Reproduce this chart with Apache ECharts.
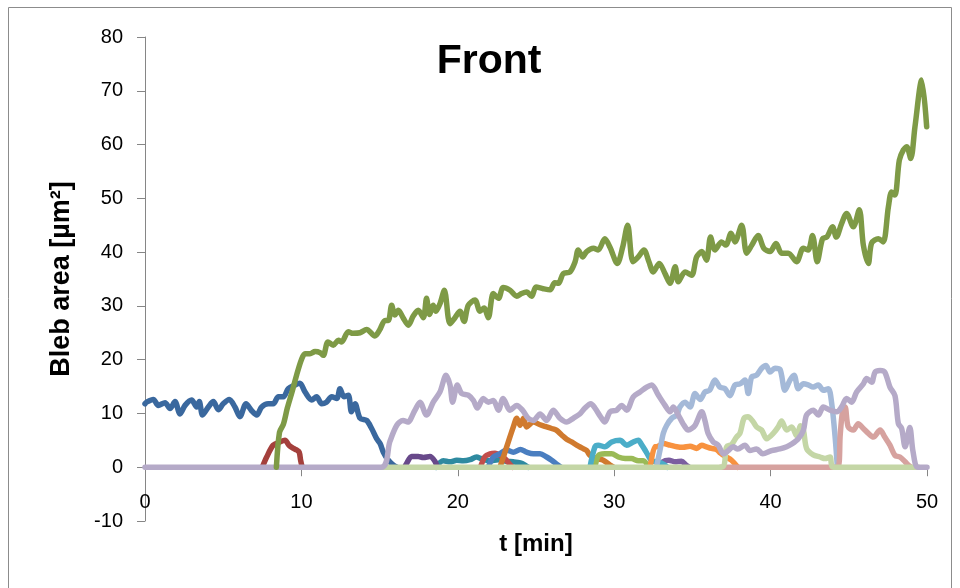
<!DOCTYPE html>
<html>
<head>
<meta charset="utf-8">
<title>Front</title>
<script src="https://cdn.jsdelivr.net/npm/echarts@6/dist/echarts.min.js"></script>
<style>
  html, body { margin: 0; padding: 0; background: #ffffff; }
  #chart { width: 960px; height: 588px; }
</style>
</head>
<body>
<div id="chart"></div>
<script>
// Bleb area traces at the cell front, [t in min, area in µm²]
const bleb01 = [[0,11.8],[0.1,12.1],[0.53,12.6],[0.85,11.5],[1.28,12.0],[1.6,10.9],[1.92,12.2],[2.24,9.9],[2.56,11.5],[2.98,12.5],[3.3,11.2],[3.47,12.2],[3.68,9.7],[4.05,11.2],[4.37,12.2],[4.69,10.7],[5.0,11.8],[5.39,12.6],[5.75,11.2],[6.07,9.4],[6.46,11.8],[6.82,10.5],[7.14,9.7],[7.46,11.2],[7.88,11.8],[8.2,11.8],[8.53,13.1],[8.85,13.1],[9.16,14.6],[9.6,15.3],[9.9,15.6],[10.23,14.0],[10.66,12.5],[10.97,13.1],[11.3,11.8],[11.6,12.1],[11.94,13.1],[12.26,12.8],[12.47,14.6],[12.72,13.1],[13.0,13.4],[13.2,10.3],[13.43,11.8],[13.75,9.1],[14.17,8.7],[14.49,7.2],[14.81,5.3],[15.03,4.4],[15.24,2.8],[15.56,1.3],[15.88,0.4],[16.1,0]];
const bleb02 = [[7.5,0],[7.78,1.9],[8.2,4.1],[8.63,4.7],[8.95,5.0],[9.2,4.1],[9.5,3.5],[9.7,3.2],[9.86,2.8],[9.95,1.3],[10.05,0]];
const bleb03 = [[8.4,0],[8.6,6.5],[8.85,8.0],[9.1,11.0],[9.4,14.0],[9.7,17.2],[10.0,20.0],[10.23,21.1],[10.55,21.1],[10.87,21.5],[11.2,21.3],[11.4,20.8],[11.7,23.3],[12.04,22.7],[12.36,23.6],[12.57,23.3],[13.0,25.2],[13.3,24.9],[13.75,25.0],[14.17,25.6],[14.7,24.4],[15.0,25.5],[15.35,27.3],[15.56,27.3],[15.77,30.1],[15.98,28.3],[16.2,29.2],[16.5,27.8],[16.84,26.4],[17.15,28.1],[17.47,29.2],[17.8,27.8],[18.0,31.4],[18.2,28.4],[18.43,30.1],[18.6,29.0],[18.86,30.4],[19.14,32.9],[19.5,26.7],[19.82,27.8],[20.14,29.0],[20.4,27.1],[20.67,30.1],[21.1,31.1],[21.42,29.0],[21.68,29.6],[21.95,27.8],[22.27,32.3],[22.6,31.4],[22.9,33.4],[23.34,32.9],[23.77,31.8],[24.08,32.3],[24.4,32.6],[24.72,31.8],[25.0,33.5],[25.46,33.2],[25.9,33.0],[26.2,34.3],[26.43,34.2],[26.74,36.0],[27.17,36.3],[27.5,38.2],[27.7,40.4],[27.98,39.1],[28.24,40.1],[28.67,40.7],[28.98,40.4],[29.4,42.5],[29.73,40.9],[30.2,37.9],[30.54,40.9],[30.86,45.0],[31.2,38.2],[31.54,39.1],[31.9,40.4],[32.22,38.2],[32.5,36.3],[32.88,37.9],[33.25,36.0],[33.57,34.2],[33.9,37.3],[34.1,34.5],[34.53,36.3],[34.95,35.7],[35.27,39.1],[35.6,40.1],[35.9,38.5],[36.16,42.8],[36.44,40.4],[36.87,41.9],[37.14,41.3],[37.47,43.5],[37.72,41.9],[38.15,45.0],[38.47,39.8],[38.8,41.3],[39.2,43.1],[39.57,40.7],[39.96,40.1],[40.35,41.6],[40.7,39.8],[41.13,39.8],[41.66,38.2],[42.09,40.7],[42.4,40.4],[42.68,43.1],[42.98,38.2],[43.32,42.5],[43.6,42.8],[43.96,44.7],[44.2,42.8],[44.54,45.3],[44.86,47.2],[45.29,44.7],[45.67,47.9],[45.93,41.3],[46.25,37.9],[46.46,41.7],[46.89,42.5],[47.2,41.9],[47.53,48.4],[47.74,51.2],[47.95,50.6],[48.23,57.1],[48.49,59.0],[48.7,59.6],[48.96,57.4],[49.23,63.3],[49.66,72.0],[49.98,63.3]];
const bleb04 = [[16.6,0],[16.73,0.7],[17.05,2.0],[17.47,2.0],[17.8,1.8],[18.22,2.0],[18.54,1.1],[18.7,0]];
const bleb05 = [[18.6,0],[19.07,1.2],[19.5,1.0],[19.93,1.3],[20.35,1.2],[20.78,1.4],[21.2,1.9],[21.5,1.6],[22.06,1.2],[22.6,1.4],[23.1,1.1],[23.55,1.0],[24.0,0.8],[24.3,0.4],[24.5,0]];
const bleb06 = [[22.7,0],[23.23,4.7],[23.55,7.5],[23.77,9.1],[23.98,7.8],[24.2,9.1],[24.4,7.5],[24.83,8.4],[25.26,7.9],[25.68,7.5],[26.0,7.2],[26.3,6.9],[26.64,6.0],[26.96,5.2],[27.28,4.7],[27.6,4.1],[27.92,3.6],[28.24,3.1],[28.45,2.2],[28.88,1.6],[29.3,1.3],[29.73,0.4],[29.95,0]];
const bleb07 = [[21.95,0],[22.27,1.9],[22.7,2.5],[23.1,3.2],[23.55,2.8],[24.0,3.3],[24.4,2.8],[24.83,2.5],[25.26,2.5],[25.68,1.9],[26.0,1.3],[26.3,0.6],[26.6,0]];
const bleb08 = [[21.45,0],[21.74,2.0],[22.06,2.5],[22.38,2.6],[22.7,2.2],[23.0,1.6],[23.34,0.5],[23.5,0]];
const bleb09 = [[0,0],[15.1,0],[15.66,4.8],[16.1,7.8],[16.5,8.7],[16.8,8.4],[17.26,10.6],[17.58,12.1],[18.0,9.7],[18.43,12.1],[18.86,14.0],[19.25,17.1],[19.5,15.3],[19.67,12.1],[19.97,15.3],[20.25,13.7],[20.67,13.4],[21.0,12.4],[21.25,11.0],[21.63,12.8],[21.95,12.1],[22.27,12.4],[22.6,10.6],[22.9,12.8],[23.34,10.6],[23.77,11.5],[24.14,10.6],[24.5,9.1],[24.83,8.7],[25.26,9.9],[25.68,8.7],[26.1,10.6],[26.53,9.1],[26.96,8.4],[27.38,9.1],[27.8,9.9],[28.13,11.0],[28.5,11.8],[28.77,11.0],[29.1,9.5],[29.4,8.4],[29.73,10.3],[30.15,10.6],[30.48,11.5],[30.8,10.6],[31.22,13.1],[31.65,14.0],[32.08,14.9],[32.4,15.3],[32.8,13.5],[33.25,11.5],[33.57,10.3],[33.78,11.2],[34.1,9.7],[34.4,8.1],[34.74,6.9],[35.17,7.8],[35.6,10.3],[35.8,8.7],[36.0,6.3],[36.33,4.7],[36.65,4.1],[36.98,2.5],[37.3,3.1],[37.6,3.8],[37.9,3.4],[38.36,4.1],[38.68,3.1],[39.1,3.4],[39.5,2.5],[40.06,3.1],[40.6,3.4],[41.03,3.8],[41.35,4.3],[41.77,5.3],[42.1,6.9],[42.3,9.7],[42.73,10.6],[43.05,9.7],[43.37,11.2],[43.8,10.6],[44.23,10.3],[44.54,11.2],[44.86,12.8],[45.18,12.1],[45.5,14.0],[45.93,15.5],[46.14,16.5],[46.46,15.8],[46.68,17.7],[47.0,18.0],[47.3,17.7],[47.63,14.9],[47.95,13.3],[48.17,8.1],[48.38,7.2],[48.6,3.8],[48.9,7.4],[49.1,3.0],[49.4,0],[50,0]];
const bleb10 = [[28.45,0],[28.77,3.8],[28.98,4.1],[29.4,3.8],[29.84,4.7],[30.37,5.0],[30.8,4.1],[31.22,4.7],[31.54,5.0],[31.75,4.2],[31.95,3.3],[32.15,2.3],[32.4,1.2],[32.8,1.0],[33.2,0.5],[33.4,0]];
const bleb11 = [[28.77,0],[29.0,2.2],[29.4,2.5],[29.84,2.5],[30.26,1.9],[30.7,1.6],[31.1,1.6],[31.54,1.2],[31.86,1.2],[32.18,0]];
const bleb12 = [[32.3,0],[32.6,3.8],[32.7,3.8],[33.14,4.4],[33.57,4.1],[34.0,3.8],[34.4,3.7],[34.85,3.9],[35.27,3.5],[35.6,4.1],[35.9,3.8],[36.23,3.5],[36.55,3.3],[36.8,2.6],[37.1,2.0],[37.5,1.3],[37.9,0]];
const bleb13 = [[32.9,0],[33.1,1.0],[33.5,1.3],[33.9,1.0],[34.3,1.1],[34.6,0.4],[34.8,0]];
const bleb14 = [[32.7,0],[32.93,3.2],[33.14,6.3],[33.36,7.8],[33.68,9.1],[34.0,9.7],[34.2,11.2],[34.53,12.1],[34.85,11.2],[35.17,13.7],[35.5,12.6],[35.8,14.0],[36.1,14.3],[36.44,16.2],[36.76,14.9],[37.08,14.6],[37.4,13.3],[37.72,15.3],[38.04,15.5],[38.36,16.2],[38.57,13.7],[38.79,16.8],[39.1,17.1],[39.43,18.4],[39.7,18.9],[39.96,17.7],[40.28,18.4],[40.6,18.2],[40.92,14.3],[41.24,16.2],[41.5,17.1],[41.77,14.6],[42.1,15.5],[42.4,15.3],[42.73,14.9],[43.05,15.3],[43.37,14.3],[43.69,14.6],[43.9,12.0],[44.12,5.8],[44.27,0]];
const bleb15 = [[36.8,0],[44.3,0],[44.45,6.0],[44.6,10.3],[44.76,11.2],[44.96,7.5],[45.29,6.9],[45.6,8.1],[45.93,7.2],[46.25,6.3],[46.57,5.6],[47.0,6.9],[47.3,5.6],[47.63,4.1],[47.95,2.2],[48.27,1.9],[48.6,1.0],[48.8,0.4],[49.0,0]];
const bleb16 = [[15.2,0],[36.85,0],[37.19,3.8],[37.5,4.2],[37.82,5.6],[38.04,6.3],[38.3,9.1],[38.55,9.4],[38.85,8.6],[39.1,7.5],[39.43,6.9],[39.75,5.3],[40.17,6.3],[40.49,7.5],[40.7,8.6],[41.03,6.9],[41.35,7.5],[41.67,5.8],[41.92,7.7],[42.1,6.9],[42.3,3.5],[42.73,2.3],[43.16,1.9],[43.48,1.6],[43.8,1.9],[44.0,0],[49.45,0]];

// Drawing order (later entries are painted on top) and line colours
const traces = [
  { data: bleb13, color: '#7b5fa0' },
  { data: bleb05, color: '#2e8aa0' },
  { data: bleb04, color: '#68498a' },
  { data: bleb08, color: '#c24e4b' },
  { data: bleb07, color: '#4a7ec0' },
  { data: bleb06, color: '#d07a2e' },
  { data: bleb11, color: '#9aba57' },
  { data: bleb10, color: '#4badc8' },
  { data: bleb12, color: '#f8923f' },
  { data: bleb14, color: '#a4b9d8' },
  { data: bleb01, color: '#3a689e' },
  { data: bleb02, color: '#a4403c' },
  { data: bleb15, color: '#d6a29f' },
  { data: bleb16, color: '#c4d6a6' },
  { data: bleb09, color: '#b5aac8' },
  { data: bleb03, color: '#7e9a46' }
];

const xTicks = { min: 0, max: 50, step: 10 };
const yTicks = { min: -10, max: 80, step: 10 };

const FONT = '"Liberation Sans", Arial, sans-serif';
const AXIS_GREY = '#868686';

const chart = echarts.init(document.getElementById('chart'), null, { renderer: 'canvas' });

chart.setOption({
  backgroundColor: '#ffffff',
  animation: false,
  title: {
    text: 'Front',
    left: 484,
    top: 36,
    textAlign: 'center',
    textStyle: { fontFamily: FONT, fontSize: 41, fontWeight: 'bold', color: '#000000' }
  },
  graphic: [{
    type: 'rect',
    silent: true,
    shape: { x: 8.5, y: 7.5, width: 943, height: 600 },
    style: { fill: 'none', stroke: '#8c8c8c', lineWidth: 1 }
  }],
  grid: { left: 145, right: 33, top: 37, bottom: 67, containLabel: false, outerBoundsMode: 'none' },
  xAxis: {
    type: 'value',
    min: xTicks.min,
    max: xTicks.max,
    interval: xTicks.step,
    name: 't [min]',
    nameLocation: 'middle',
    nameGap: 11,
    nameTextStyle: { fontFamily: FONT, fontSize: 24, fontWeight: 'bold', color: '#000000' },
    axisLine: { onZero: true, lineStyle: { color: AXIS_GREY, width: 1 } },
    axisTick: { show: true, inside: false, length: 9, lineStyle: { color: AXIS_GREY } },
    axisLabel: { margin: -29, fontFamily: FONT, fontSize: 20, color: '#000000' },
    splitLine: { show: false }
  },
  yAxis: {
    type: 'value',
    min: yTicks.min,
    max: yTicks.max,
    interval: yTicks.step,
    name: 'Bleb area [µm²]',
    nameLocation: 'middle',
    nameGap: 70,
    nameRotate: 90,
    nameTextStyle: { fontFamily: FONT, fontSize: 27, fontWeight: 'bold', color: '#000000' },
    axisLine: { show: true, onZero: false, lineStyle: { color: AXIS_GREY, width: 1 } },
    axisTick: { show: true, inside: false, length: 8, lineStyle: { color: AXIS_GREY } },
    axisLabel: { margin: 22, fontFamily: FONT, fontSize: 20, color: '#000000' },
    splitLine: { show: false }
  },
  series: traces.map(function (tr) {
    return {
      type: 'line',
      data: tr.data,
      smooth: 0.3,
      showSymbol: false,
      symbol: 'none',
      lineStyle: { color: tr.color, width: 5.5, cap: 'round', join: 'round' },
      itemStyle: { color: tr.color },
      clip: false
    };
  })
});
</script>
</body>
</html>
